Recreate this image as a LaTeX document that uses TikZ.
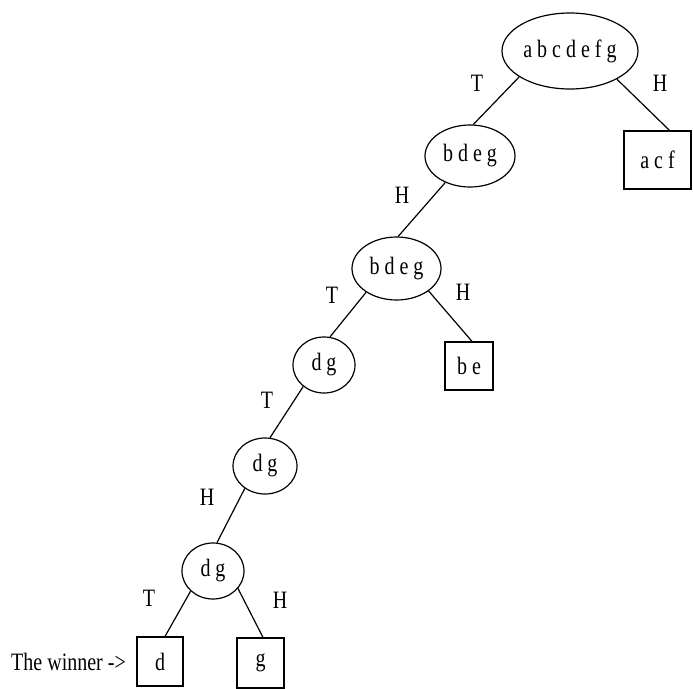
\documentclass[tikz,border=0pt]{standalone}
\usepackage{fontspec}
\setmainfont{Liberation Serif}[FakeStretch=0.8]
\usetikzlibrary{shapes.geometric}
\tikzset{
  ell/.style={draw, ellipse, line width=1.2pt, inner sep=0pt, font=\fontsize{25}{28}\selectfont},
  leaf/.style={draw, rectangle, line width=1.2pt, inner sep=0pt, font=\fontsize{25}{28}\selectfont},
  lbl/.style={inner sep=0pt, font=\fontsize{25}{28}\selectfont},
  conn/.style={line width=1.2pt}
}
\begin{document}
\begin{tikzpicture}[x=1pt,y=-1pt]
\useasboundingbox (0,0) rectangle (693,688);
% inner nodes
\node[ell, minimum width=136pt, minimum height=76pt] (root) at (570,51) {a b c d e f g};
\node[ell, minimum width=90pt, minimum height=62pt] (b1) at (470,156) {b d e g};
\node[ell, minimum width=89pt, minimum height=63pt] (b2) at (396.5,268.5) {b d e g};
\node[ell, minimum width=62pt, minimum height=56pt] (dg1) at (324,365) {d g};
\node[ell, minimum width=64pt, minimum height=56pt] (dg2) at (265,466) {d g};
\node[ell, minimum width=62pt, minimum height=56pt] (dg3) at (213,571) {d g};
% leaves
\node[leaf, minimum width=67pt, minimum height=58pt] (acf) at (657.5,160) {a c f};
\node[leaf, minimum width=48pt, minimum height=48pt] (be) at (469,366) {b e};
\node[leaf, minimum width=46pt, minimum height=49pt] (d) at (160,661.5) {d};
\node[leaf, minimum width=47pt, minimum height=50pt] (g) at (260.5,663) {g};
% connectors
\draw[conn] (root.207.5) -- (b1.84);
\draw[conn] (root.329.4) -- ([xshift=12pt]acf.north);
\draw[conn] (b1.227) -- (b2.87);
\draw[conn] (b2.218.5) -- (dg1.78);
\draw[conn] (b2.325) -- ([xshift=3pt]be.north);
\draw[conn] (dg1.226) -- (dg2.80);
\draw[conn] (dg2.228) -- (dg3.82);
\draw[conn] (dg3.222) -- ([xshift=5pt]d.north);
\draw[conn] (dg3.325) -- ([xshift=2.5pt]g.north);
% labels
\node[lbl] (l1) at (477,83) {T};
\node[lbl] (l2) at (660,83) {H};
\node[lbl] (l3) at (402,195) {H};
\node[lbl] (l4) at (332,295) {T};
\node[lbl] (l5) at (463,292) {H};
\node[lbl] (l6) at (267,400) {T};
\node[lbl] (l7) at (207,497) {H};
\node[lbl] (l8) at (149,598) {T};
\node[lbl] (l9) at (280,600) {H};
\node[lbl, anchor=east] (win) at (126,662) {The winner ->};
\end{tikzpicture}
\end{document}
